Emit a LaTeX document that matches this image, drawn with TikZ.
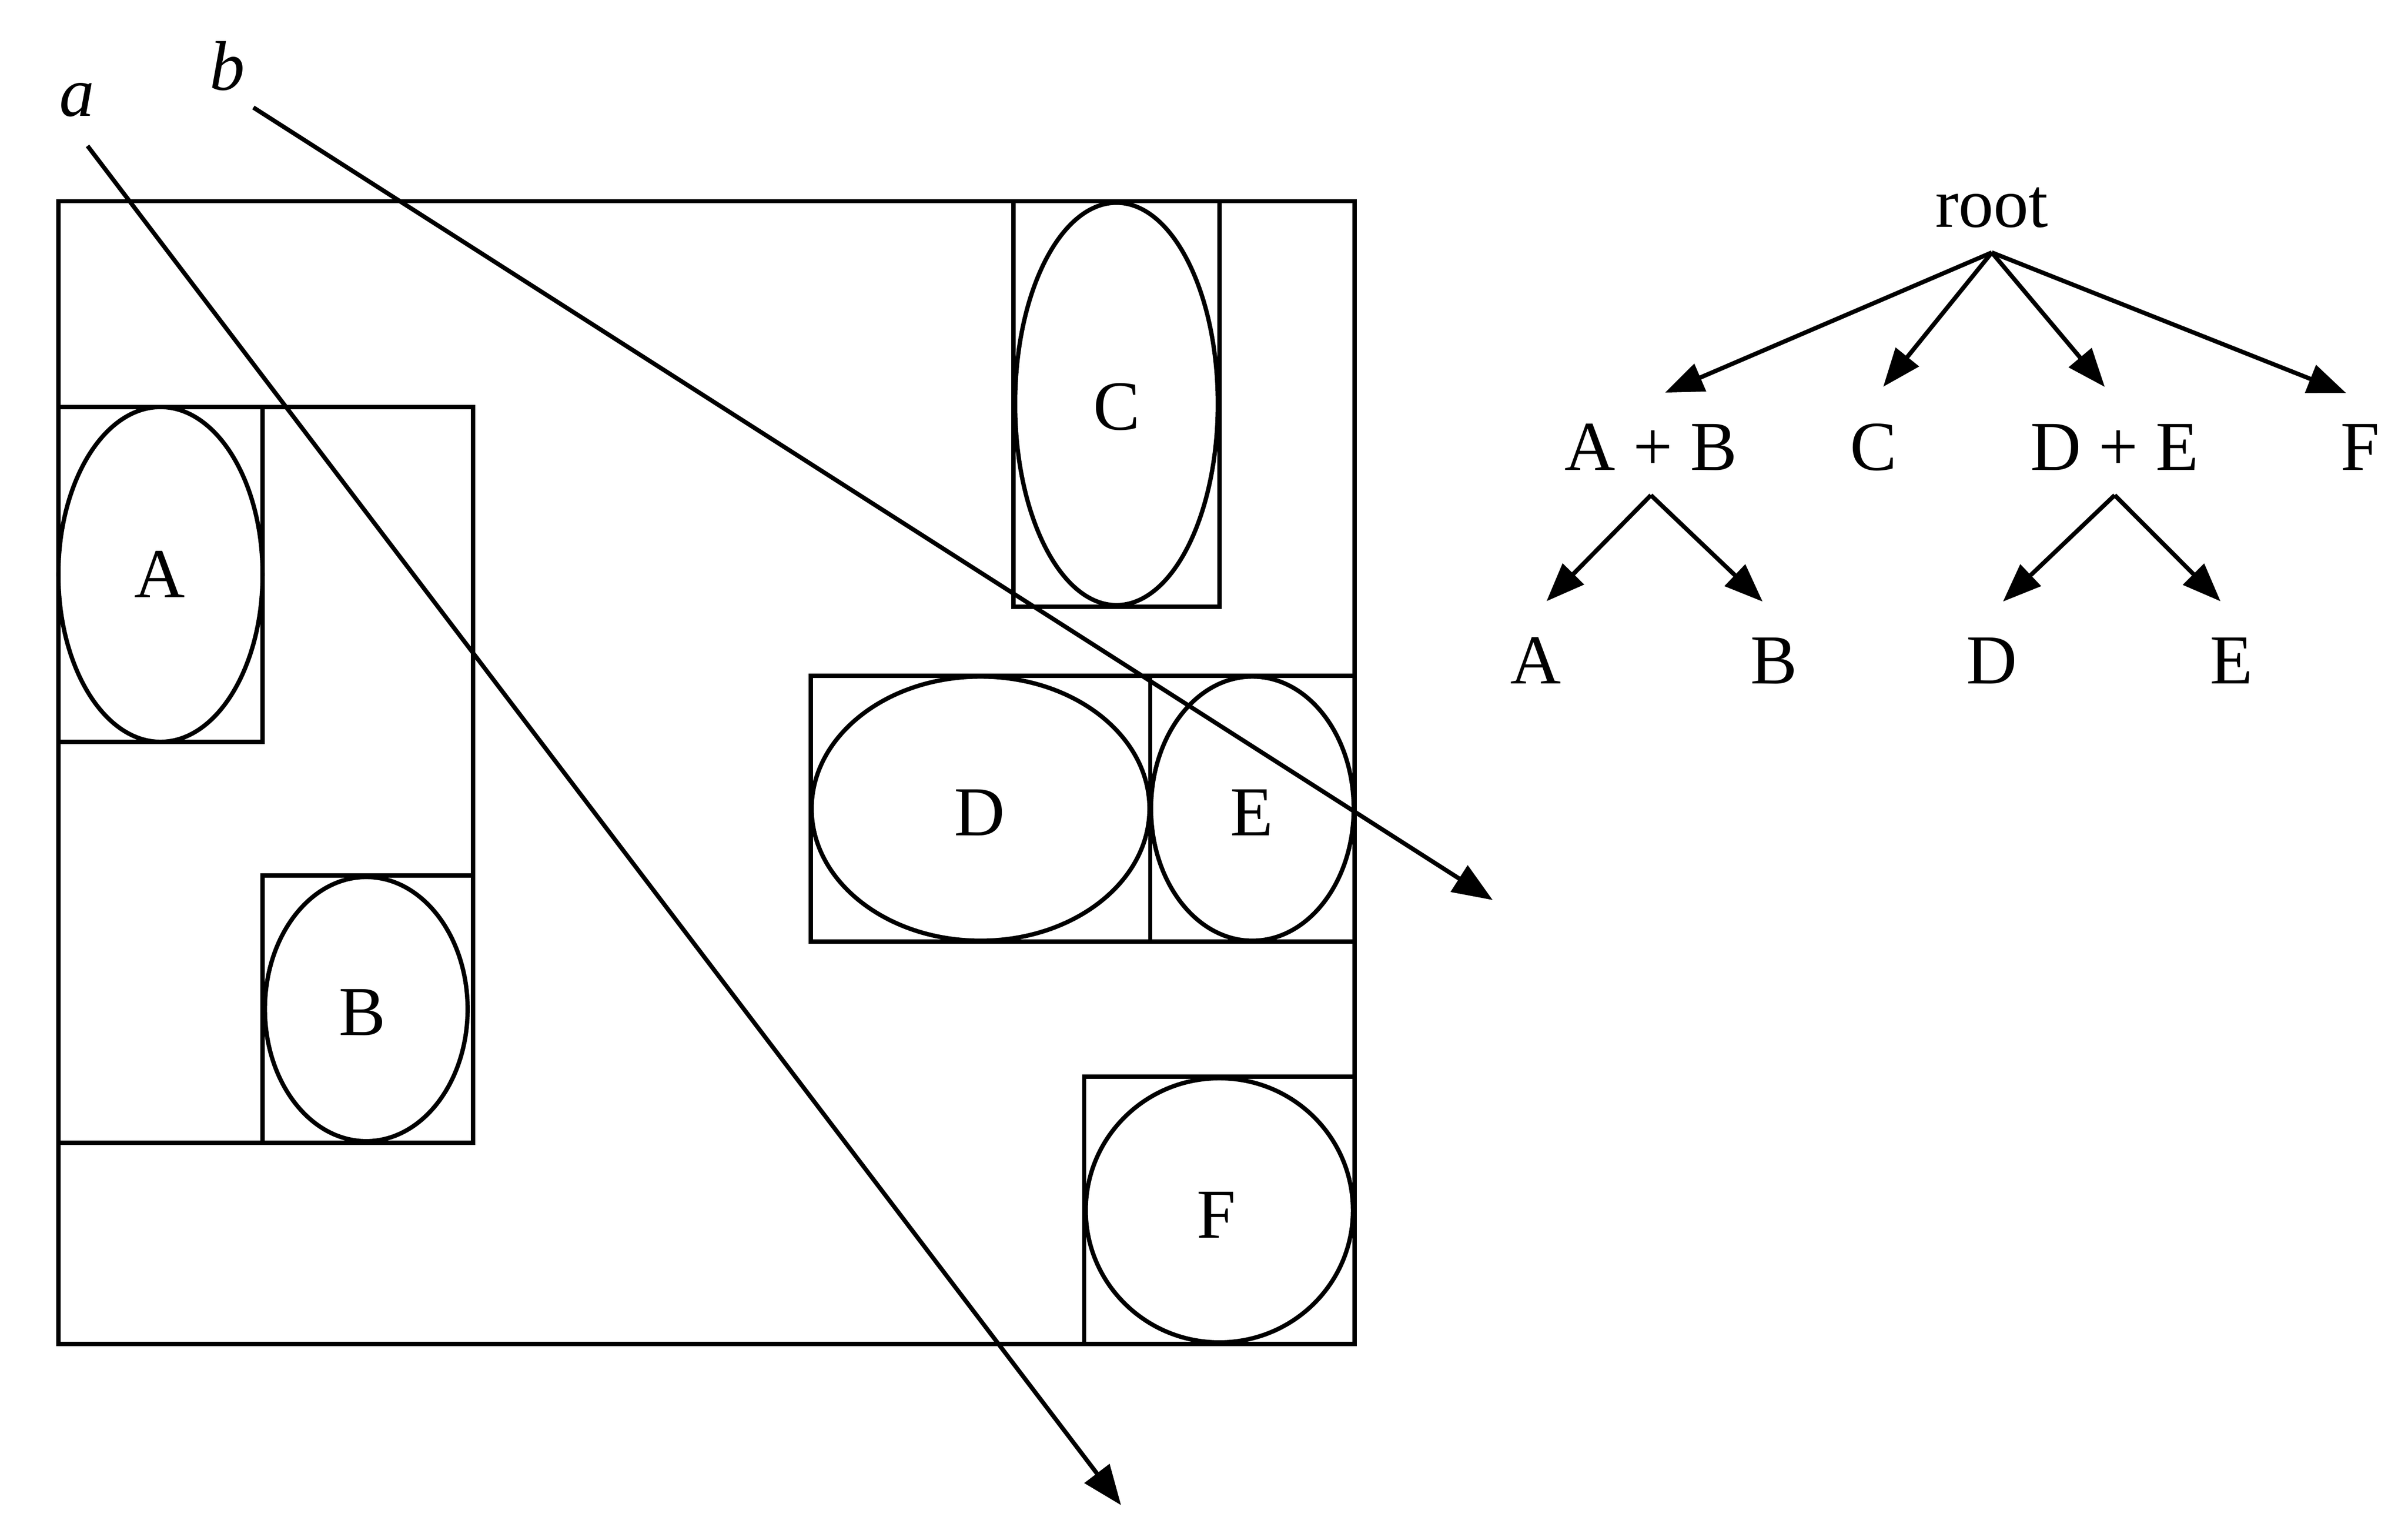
\documentclass[tikz,border=0pt]{standalone}
\usepackage{fontspec}
\setmainfont{Liberation Serif}
\usetikzlibrary{arrows.meta}

\begin{document}
\begin{tikzpicture}[x=0.1mm, y=-0.1mm, line width=0.8pt,
        lbl/.style   = {font=\fontsize{13}{15}\selectfont, inner sep=0pt},
        tnode/.style = {font=\fontsize{13}{15}\selectfont, text height=3mm, text depth=0pt, inner sep=1.5mm},
        ray/.style   = {-{Triangle[length=2.6mm, width=2mm]}},
        edge/.style  = {-{Triangle[length=2.5mm, width=1.9mm]}, shorten >=1mm}]
    \useasboundingbox (0,0) rectangle (1568,1000.4);
    % outer box and the bounding boxes
    \draw (  38, 131) rectangle ( 882, 875);
    \draw (  38, 265) rectangle ( 308, 744);
    \draw (  38, 265) rectangle ( 171, 483);
    \draw ( 171, 570) rectangle ( 308, 744);
    \draw ( 660, 131) rectangle ( 794, 395);
    \draw ( 528, 440) rectangle ( 749, 613);
    \draw ( 749, 440) rectangle ( 882, 613);
    \draw ( 706, 701) rectangle ( 882, 875);
    % objects
    \draw ( 104.5, 374) ellipse (66.5 and 109);
    \draw ( 238.5, 657) ellipse (66   and  86);
    \draw ( 727,   263) ellipse (66   and 131);
    \draw ( 638.5, 526.5) ellipse (110 and 86);
    \draw ( 815.5, 526.5) ellipse (66  and 86);
    \draw ( 794,   788) ellipse (87   and  86);
    \node[lbl] (objA) at ( 104, 374) {A};
    \node[lbl] (objB) at ( 236, 659) {B};
    \node[lbl] (objC) at ( 727, 265) {C};
    \node[lbl] (objD) at ( 638, 529) {D};
    \node[lbl] (objE) at ( 815, 529) {E};
    \node[lbl] (objF) at ( 792, 791) {F};
    % rays
    \node[lbl] (rayA) at (  50,  65) {\itshape a};
    \node[lbl] (rayB) at ( 148,  43) {\itshape b};
    \coordinate (rayAstart) at (  57,  95);
    \coordinate (rayAend)   at ( 730, 980);
    \coordinate (rayBstart) at ( 165,  70);
    \coordinate (rayBend)   at ( 972, 586);
    \draw[ray] (rayAstart) -- (rayAend);
    \draw[ray] (rayBstart) -- (rayBend);
    % hierarchy
    \node[tnode] (root) at (1297, 133) {root};
    \node[tnode] (ab)   at (1075, 291) {A + B};
    \node[tnode] (c)    at (1220, 291) {C};
    \node[tnode] (de)   at (1377, 291) {D + E};
    \node[tnode] (f)    at (1537, 291) {F};
    \node[tnode] (a)    at (1000, 430) {A};
    \node[tnode] (b)    at (1155, 430) {B};
    \node[tnode] (d)    at (1297, 430) {D};
    \node[tnode] (e)    at (1453, 430) {E};
    \foreach \n in {ab, c, de, f}
        \draw[edge] (root.south) -- (\n.north);
    \draw[edge] (ab.south) -- (a.north);
    \draw[edge] (ab.south) -- (b.north);
    \draw[edge] (de.south) -- (d.north);
    \draw[edge] (de.south) -- (e.north);
\end{tikzpicture}
\end{document}
